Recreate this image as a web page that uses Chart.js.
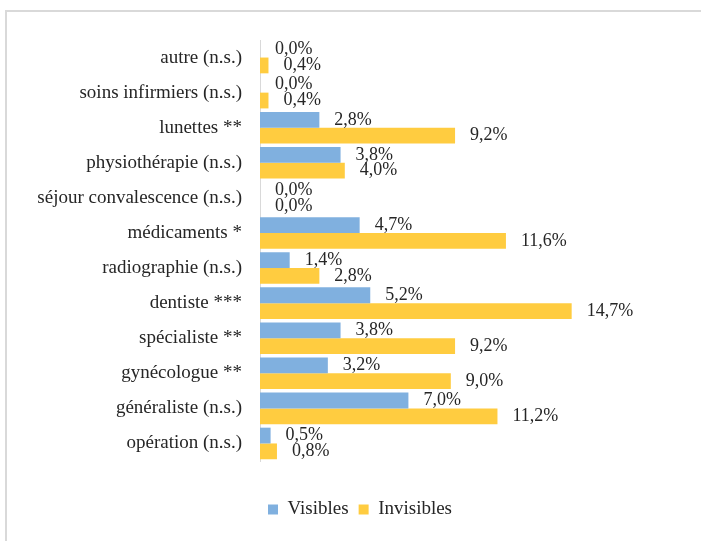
<!DOCTYPE html>
<html>
<head>
<meta charset="utf-8">
<script src="https://cdn.jsdelivr.net/npm/chart.js@4"></script>
<style>
  html, body { margin: 0; padding: 0; background: #fff; }
  body { width: 701px; height: 541px; overflow: hidden; position: relative; }
  #frame {
    position: absolute; left: 5px; top: 10px; width: 800px; height: 600px;
    border-left: 2px solid #d9d9d9; border-top: 2px solid #d9d9d9;
  }
  #wrap { position: absolute; left: 0; top: 0; width: 701px; height: 541px; }
</style>
</head>
<body>
<div id="frame"></div>
<div id="wrap"><canvas id="chart"></canvas></div>
<script>
// données (en %)
const categories = [
    'autre (n.s.)', 'soins infirmiers (n.s.)', 'lunettes **', 'physiothérapie (n.s.)',
    'séjour convalescence (n.s.)', 'médicaments *', 'radiographie (n.s.)', 'dentiste ***',
    'spécialiste **', 'gynécologue **', 'généraliste (n.s.)', 'opération (n.s.)'
];
const visibles   = [0.0, 0.0, 2.8, 3.8, 0.0, 4.7, 1.4, 5.2, 3.8, 3.2, 7.0, 0.5];
const invisibles = [0.4, 0.4, 9.2, 4.0, 0.0, 11.6, 2.8, 14.7, 9.2, 9.0, 11.2, 0.8];

const FONT = "'Liberation Serif', 'DejaVu Serif', serif";
const TEXT = '#262626';

// étiquettes de valeurs à droite des barres
const valueLabels = {
    id: 'valueLabels',
    afterDatasetsDraw(chart) {
        const ctx = chart.ctx;
        ctx.save();
        ctx.font = '18px ' + FONT;
        ctx.fillStyle = TEXT;
        ctx.textAlign = 'left';
        ctx.textBaseline = 'middle';
        chart.data.datasets.forEach((ds, i) => {
            chart.getDatasetMeta(i).data.forEach((bar, j) => {
                const txt = ds.data[j].toFixed(1).replace('.', ',') + '%';
                ctx.fillText(txt, bar.x + 15, bar.y);
            });
        });
        ctx.restore();
    }
};

new Chart(document.getElementById('chart'), {
    type: 'bar',
    data: {
        labels: categories,
        datasets: [
            { label: 'Visibles', data: visibles, backgroundColor: '#80B0DF' },
            { label: 'Invisibles', data: invisibles, backgroundColor: '#FFCC40' }
        ]
    },
    options: {
        indexAxis: 'y',
        responsive: true,
        maintainAspectRatio: false,
        animation: false,
        categoryPercentage: 0.9,
        barPercentage: 1.0,
        layout: { padding: { top: 40, left: 19, right: 0, bottom: 12 } },
        scales: {
            x: {
                min: 0, max: 20.8,
                grid: { display: false },
                border: { display: false },
                ticks: { display: false },
                afterFit: s => { s.height = 29; }
            },
            y: {
                grid: { display: false, drawTicks: false },
                border: { display: true, color: '#d9d9d9', width: 1 },
                ticks: { color: TEXT, font: { family: FONT, size: 19 }, padding: 18 },
                afterFit: s => { s.width = 241; }
            }
        },
        plugins: {
            legend: {
                position: 'bottom',
                labels: {
                    color: TEXT,
                    font: { family: FONT, size: 19 },
                    boxWidth: 10, boxHeight: 10,
                    padding: 10
                }
            },
            tooltip: { enabled: false }
        }
    },
    plugins: [valueLabels]
});
</script>
</body>
</html>
